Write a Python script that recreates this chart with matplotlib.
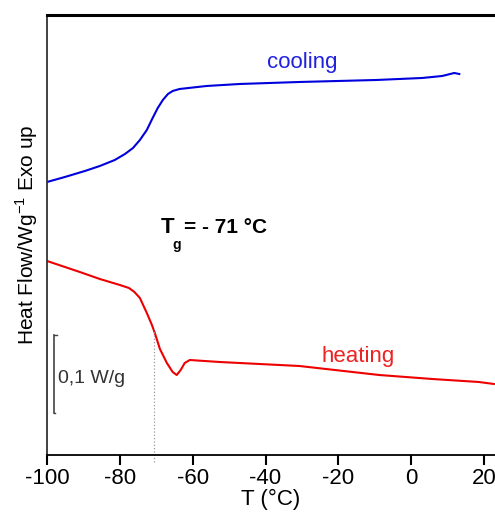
import matplotlib.pyplot as plt

plt.rcParams['font.family'] = ['Liberation Sans', 'DejaVu Sans']

# DADOS (heat flow in arbitrary units, exo up)
T_cool = [-100, -95.1, -89.6, -85.5, -81.4, -78.6, -76.4, -74.5, -72.6, -71.0,
          -69.6, -68.2, -66.8, -65.5, -63.6, -56.2, -47.1, -30.7, -9.6, 3.0,
          8.5, 11.8, 13.2]
hf_cool = [273, 278, 284, 289, 295, 301, 307, 315, 325, 337,
           347, 355, 361, 364, 366, 369, 371, 373, 375, 377,
           379, 382, 381]

T_heat = [-100, -91, -85.5, -80, -77.5, -76.0, -74.5, -72.6, -71.2, -70.4, -69.0,
          -67.1, -65.5, -64.4, -63.3, -62.2, -60.8, -52.6, -30.7, -8.8, 5.8, 18.6, 22.7]
hf_heat = [194, 183, 176, 170, 167, 163, 157, 142, 130, 122, 106,
           92, 83, 80, 85, 92, 95, 93, 89, 80, 76, 73, 71]

Tg = -70.5
xticks = [-100, -80, -60, -40, -20, 0, 20]

fig = plt.figure(figsize=(4.95, 5.15), dpi=100)
ax = fig.add_axes([0.095, 0.1165, 0.905, 0.8544])

ax.plot(T_cool, hf_cool, color='#0000dd', lw=1.5)
ax.plot(T_heat, hf_heat, color='#ee0000', lw=1.5)

# Tg marker
ax.plot([Tg, Tg], [-7, 128], color='#999999', lw=0.9, ls=':', clip_on=False)

# scale bar 0,1 W/g
ax.plot([-98.2, -97.2], [120, 120], color='#444444', lw=1)
ax.plot([-98.2, -98.2], [42, 120], color='#444444', lw=1.2)
ax.plot([-98.2, -97.8], [42, 42], color='#444444', lw=1)
ax.text(-97, 76, '0,1 W/g', fontsize=14, color='#333333', va='center', ha='left')

ax.text(-30, 392, 'cooling', color='#2222dd', fontsize=16, ha='center', va='center')
ax.text(-14.5, 98, 'heating', color='#ee2222', fontsize=16, ha='center', va='center')
ax.text(-68.7, 227, 'T', fontsize=16, fontweight='bold', ha='left', va='center')
ax.text(-65.6, 210, 'g', fontsize=10, fontweight='bold', ha='left', va='center')
ax.text(-62.3, 227, '= - 71 °C', fontsize=15, fontweight='bold', ha='left', va='center')

ax.set_xlim(-100, 23)
ax.set_ylim(0, 440)
ax.set_xticks(xticks)
ax.set_xticklabels([str(t) for t in xticks])
ax.set_yticks([])
ax.tick_params(axis='x', direction='out', length=7, width=1.5, labelsize=16, pad=2)
ax.set_xlabel('T (°C)', fontsize=16, labelpad=0)
ax.set_ylabel(r'Heat Flow/Wg$^{\mathregular{-1}}$ Exo up', fontsize=15, labelpad=5)

ax.spines['right'].set_visible(False)
ax.spines['top'].set_linewidth(2.2)
ax.spines['left'].set_linewidth(1.3)
ax.spines['left'].set_color('#333333')
ax.spines['bottom'].set_linewidth(1.3)

plt.savefig('out.png', dpi=100)
